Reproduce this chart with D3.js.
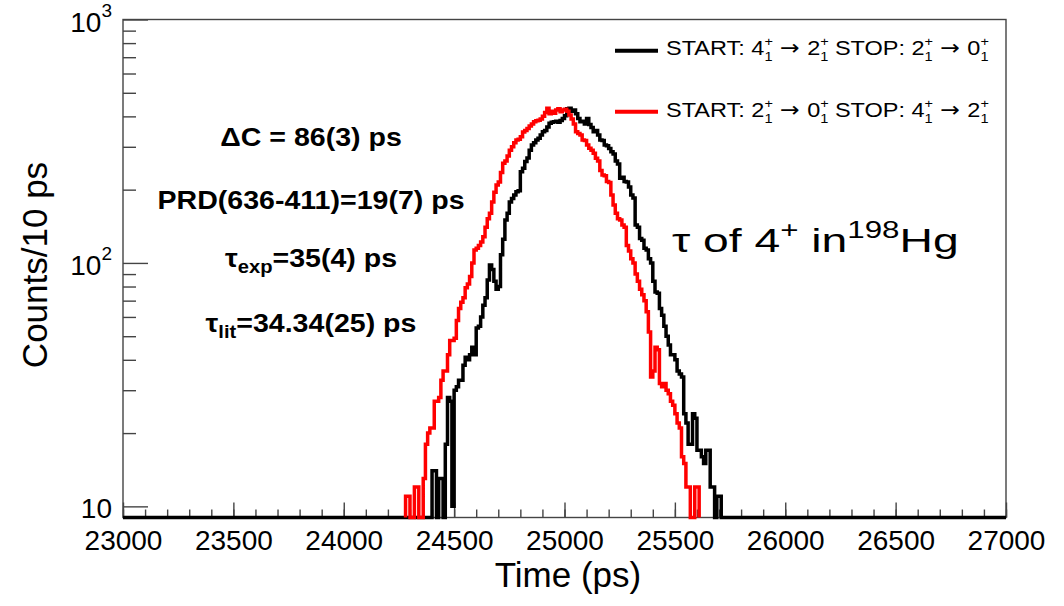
<!DOCTYPE html>
<html lang="en">
<head>
<meta charset="UTF-8">
<title></title>
<style type="text/css">
    html, body { padding:0; margin:0; background:#fff; }
    text { font-family: "Liberation Sans", Arial, sans-serif; fill:#000; }
</style>
</head>
<body>
<script src="https://d3js.org/d3.v7.min.js"></script>
<script>
    // time axis (ps) and bins
    var xMin = 23000, xMax = 27000, binWidth = 10;
    var xMajor = d3.range(23000, 27001, 500);
    var xMinor = d3.range(23000, 27001, 100);

    // log y axis
    var yMajor = [10, 100, 1000];
    var yMinor = [20, 30, 40, 50, 60, 70, 80, 90, 200, 300, 400, 500, 600, 700, 800, 900];
    var yTickLabels = [
        {v: 10, base: '10', exp: ''},
        {v: 100, base: '10', exp: '2'},
        {v: 1000, base: '10', exp: '3'}
    ];

    // START 4+ -> 2+ / STOP 2+ -> 0+ (black), first bin at 24380 ps
    var blackStart = 24380;
    var blackCounts = [
        5, 6, 14, 14, 8, 13, 13, 7, 18, 28,
        27, 10, 30, 31, 33, 33, 38, 41, 40, 42,
        45, 42, 54, 55, 60, 67, 72, 85, 98, 94,
        84, 78, 80, 108, 125, 150, 160, 178, 184, 190,
        196, 198, 237, 245, 261, 270, 290, 305, 312, 320,
        325, 335, 346, 350, 362, 375, 378, 380, 382, 378,
        385, 392, 402, 430, 432, 420, 425, 410, 392, 380,
        382, 372, 392, 370, 360, 346, 350, 335, 320, 318,
        305, 303, 295, 286, 280, 262, 255, 223, 225, 216,
        215, 205, 190, 185, 143, 140, 126, 124, 115, 113,
        104, 100, 84, 76, 75, 65, 61, 55, 50, 46,
        42, 42, 40, 36, 35, 34, 24, 22, 18, 18,
        24, 23, 17, 17, 16, 15, 17, 17, 12, 12,
        5, 11, 11
    ];

    // START 2+ -> 0+ / STOP 4+ -> 2+ (red), first bin at 24280 ps
    var redStart = 24280;
    var redCounts = [
        11, 11, 6, 7, 12, 12, 6, 7, 13, 18,
        20, 21, 21, 27, 27, 28, 33, 36, 36, 42,
        48, 48, 49, 58, 65, 69, 72, 79, 82, 88,
        100, 113, 115, 118, 122, 128, 140, 152, 160, 178,
        195, 209, 215, 235, 257, 262, 275, 290, 300, 312,
        320, 322, 330, 345, 350, 357, 365, 372, 380, 384,
        386, 390, 400, 415, 432, 410, 420, 412, 425, 430,
        418, 425, 428, 420, 405, 390, 372, 346, 340, 335,
        320, 318, 305, 296, 290, 282, 269, 262, 240, 230,
        228, 216, 214, 190, 173, 160, 152, 150, 143, 140,
        118, 112, 104, 100, 90, 84, 78, 74, 70, 63,
        52, 34, 36, 45, 44, 32, 31, 32, 30, 29,
        27, 26, 24, 22, 21, 16, 15, 12, 12, 4,
        4, 12, 12
    ];

    var width = 1064, height = 606;
    var fLeft = 123, fRight = 1006, fTop = 19.5, fBottom = 517.5;
    var axisColor = '#444';

    var svg = d3.select('body').append('svg')
                .attr('width', width)
                .attr('height', height);

    var scaleX = d3.scaleLinear().domain([xMin, xMax]).range([fLeft, fRight]),
        scaleY = d3.scaleLog().domain([9, 1000]).range([fBottom, fTop]);

    // frame
    svg.append('rect')
       .attr('x', fLeft).attr('y', fTop)
       .attr('width', fRight - fLeft).attr('height', fBottom - fTop)
       .attr('fill', 'none')
       .attr('stroke', axisColor)
       .attr('stroke-width', 1.4);

    // x ticks (inward)
    var axisXMinor = d3.axisBottom(scaleX).tickValues(xMinor).tickSize(-8).tickFormat('');
    var axisXMajor = d3.axisBottom(scaleX).tickValues(xMajor).tickSize(-15)
                       .tickFormat(d3.format('d'));

    svg.append('g').attr('class', 'xMinor')
       .attr('transform', 'translate(0,' + fBottom + ')')
       .call(axisXMinor);
    svg.append('g').attr('class', 'xAxis')
       .attr('transform', 'translate(0,' + fBottom + ')')
       .call(axisXMajor);

    d3.selectAll('.xAxis text')
      .attr('y', 32.5).attr('dy', null)
      .attr('font-size', 28)
      .attr('font-family', '"Liberation Sans", Arial, sans-serif');

    // y ticks (inward)
    var axisYMinor = d3.axisLeft(scaleY).tickValues(yMinor).tickSize(-13).tickFormat(''),
        axisYMajor = d3.axisLeft(scaleY).tickValues(yMajor).tickSize(-25).tickFormat('');

    svg.append('g').attr('class', 'yMinor')
       .attr('transform', 'translate(' + fLeft + ',0)')
       .call(axisYMinor);
    svg.append('g').attr('class', 'yAxis')
       .attr('transform', 'translate(' + fLeft + ',0)')
       .call(axisYMajor);

    svg.selectAll('.domain').remove();
    svg.selectAll('.tick line')
       .attr('stroke', axisColor)
       .attr('stroke-width', 1.4);

    // y tick labels 10, 10^2, 10^3
    yTickLabels.forEach(function(d) {
        var t = svg.append('text')
                   .attr('x', 112)
                   .attr('y', scaleY(d.v) + 12)
                   .attr('text-anchor', 'end')
                   .attr('font-size', 28)
                   .text(d.base);
        if (d.exp) {
            t.append('tspan').attr('font-size', 19).attr('dy', -15).text(d.exp);
        }
    });

    // histograms as step lines
    function binsOf(start, counts, from, to) {
        var pts = [[from, 0]];
        for (var t = from; t < to; t += binWidth) {
            var i = Math.round((t - start) / binWidth);
            var v = (i >= 0 && i < counts.length) ? counts[i] : 0;
            pts.push([t, v]);
            pts.push([t + binWidth, v]);
        }
        pts.push([to, 0]);
        return pts;
    }

    var line = d3.line()
                 .x(function(d) { return scaleX(d[0]); })
                 .y(function(d) { return d[1] < 9 ? fBottom : scaleY(d[1]); });

    var series = [
        {color: '#000', pts: binsOf(blackStart, blackCounts, xMin, xMax)},
        {color: '#ff0000', pts: binsOf(redStart, redCounts, redStart, redStart + redCounts.length * binWidth)}
    ];

    svg.selectAll('path.line')
       .data(series)
       .enter()
       .append('path')
       .attr('class', 'line')
       .attr('d', function(d) { return line(d.pts); })
       .attr('fill', 'none')
       .attr('stroke', function(d) { return d.color; })
       .attr('stroke-width', 3.5)
       .attr('stroke-linejoin', 'miter');

    // axis titles
    svg.append('text')
       .attr('x', 568).attr('y', 587)
       .attr('text-anchor', 'middle')
       .attr('font-size', 35)
       .text('Time (ps)');

    svg.append('text')
       .attr('transform', 'translate(47,265) rotate(-90)')
       .attr('text-anchor', 'middle')
       .attr('font-size', 35)
       .text('Counts/10 ps');

    // legend (no box, sits against the frame)
    var legendRows = [
        {color: '#000', y: 50.7, base: 55, parts: ['START: ', '4', ' \u2192 ', '2', ' STOP: ', '2', ' \u2192 ', '0']},
        {color: '#ff0000', y: 111.7, base: 116.7, parts: ['START: ', '2', ' \u2192 ', '0', ' STOP: ', '4', ' \u2192 ', '2']}
    ];

    legendRows.forEach(function(r) {
        svg.append('line')
           .attr('x1', 615).attr('x2', 658)
           .attr('y1', r.y).attr('y2', r.y)
           .attr('stroke', r.color)
           .attr('stroke-width', 4);
        var t = svg.append('text')
                   .attr('transform', 'translate(666,' + r.base + ') scale(1.12,1)')
                   .attr('font-size', 21);
        var pendingDy = 0;
        r.parts.forEach(function(p, i) {
            var s = t.append('tspan').text(p);
            if (p.indexOf('\u2192') >= 0) s.attr('font-family', '"DejaVu Sans", sans-serif');
            if (pendingDy) { s.attr('dy', pendingDy); pendingDy = 0; }
            if (i % 2 === 1) {
                // level: superscript + over subscript 1
                t.append('tspan').attr('font-size', 13).attr('dy', -9).text('+');
                t.append('tspan').attr('font-size', 13).attr('dx', -7.6).attr('dy', 15).text('1');
                pendingDy = -6;
            }
        });
    });

    // fit results
    var notes = [
        {y: 146, main: '\u0394C = 86(3) ps', sub: '', rest: ''},
        {y: 209, main: 'PRD(636-411)=19(7) ps', sub: '', rest: ''},
        {y: 266.7, main: '\u03c4', sub: 'exp', rest: '=35(4) ps'},
        {y: 331.7, main: '\u03c4', sub: 'lit', rest: '=34.34(25) ps'}
    ];

    notes.forEach(function(n) {
        var t = svg.append('text')
                   .attr('transform', 'translate(311,' + n.y + ') scale(1.12,1)')
                   .attr('text-anchor', 'middle')
                   .attr('font-size', 25.5)
                   .attr('font-weight', 'bold')
                   .text(n.main);
        if (n.sub) {
            t.append('tspan').attr('font-size', 18).attr('dy', 6).text(n.sub);
            t.append('tspan').attr('dy', -6).text(n.rest);
        }
    });

    // overlay title
    var tau = svg.append('text')
                 .attr('transform', 'translate(672,251.7) scale(1.36,1)')
                 .attr('font-size', 34);
    tau.append('tspan').text('\u03c4 of 4');
    tau.append('tspan').attr('font-size', 23).attr('dy', -14).text('+');
    tau.append('tspan').attr('dy', 14).text(' in');
    tau.append('tspan').attr('font-size', 23).attr('dy', -14).text('198');
    tau.append('tspan').attr('dy', 14).text('Hg');
</script>
</body>
</html>
